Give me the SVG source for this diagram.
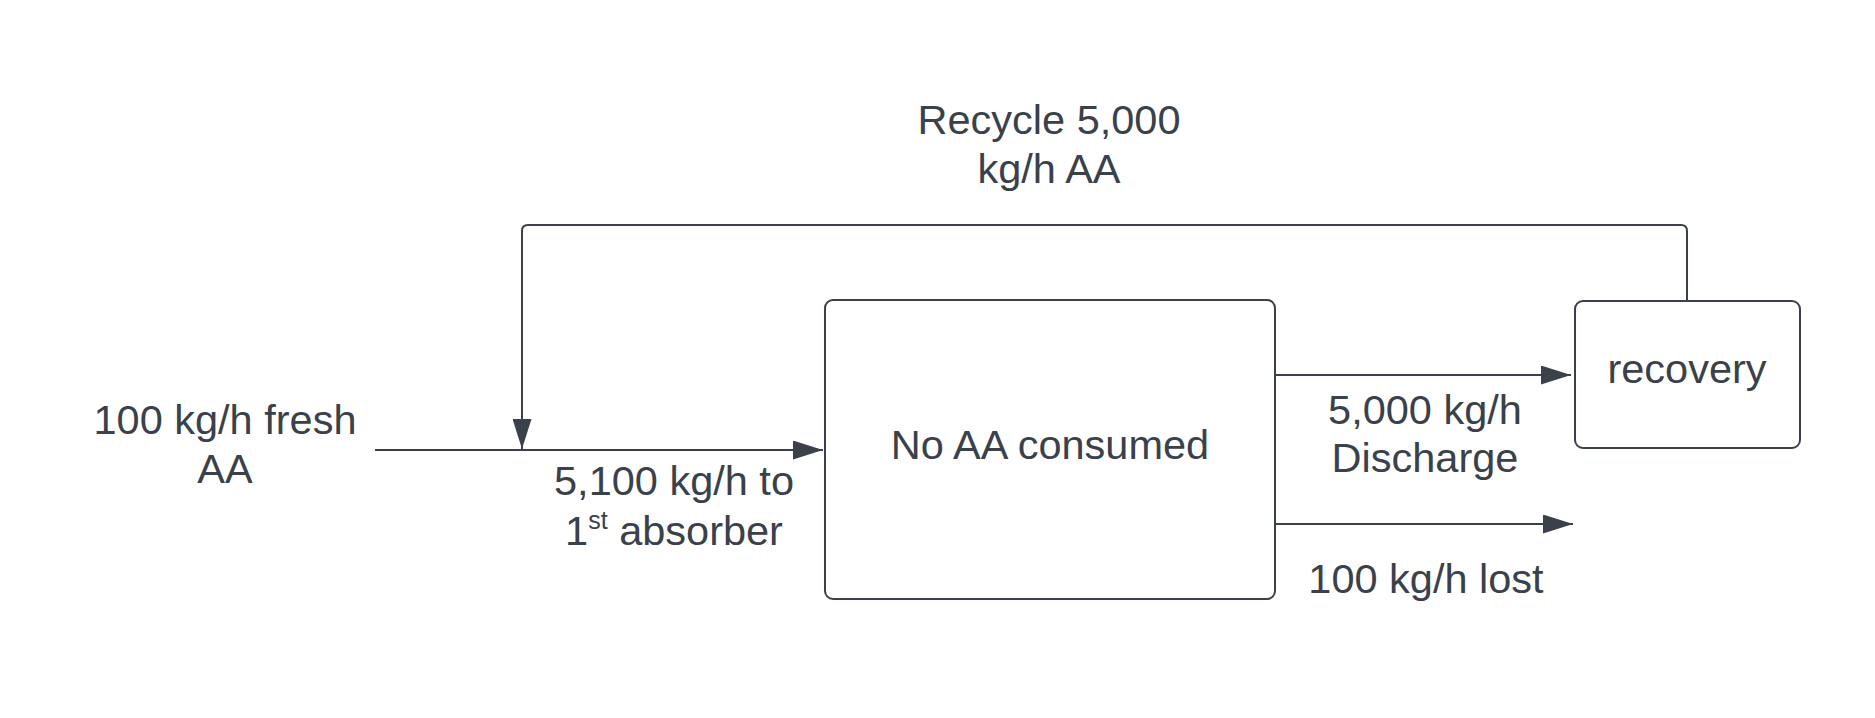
<svg xmlns="http://www.w3.org/2000/svg" width="1875" height="718" viewBox="0 0 1875 718">
<style>
.node{fill:#ffffff;stroke:#3a414a;stroke-width:2}
.edge{fill:none;stroke:#3a414a;stroke-width:2}
.t{font-family:"Liberation Sans",Arial,sans-serif;font-size:41.5px;fill:#3a414a;text-anchor:middle}
</style>
<defs>
<marker id="arr" markerUnits="userSpaceOnUse" markerWidth="30" markerHeight="19" refX="30" refY="9.5" orient="auto">
<path d="M0,0 L30,9.5 L0,19 Z" fill="#3a414a"/>
</marker>
</defs>
<rect width="1875" height="718" fill="#ffffff"/>
<g id="connectors">
<path class="edge" d="M375,450 L823,450" marker-end="url(#arr)"/>
<path class="edge" d="M1687,301 L1687,231 Q1687,225 1681,225 L528,225 Q522,225 522,231 L522,449" marker-end="url(#arr)"/>
<path class="edge" d="M1275,375 L1571,375" marker-end="url(#arr)"/>
<path class="edge" d="M1275,524 L1573,524" marker-end="url(#arr)"/>
</g>
<g id="node-main">
<rect class="node" x="825" y="300" width="450" height="299" rx="8"/>
<text class="t" x="1050" y="459">No AA consumed</text>
</g>
<g id="node-recovery">
<rect class="node" x="1575" y="301" width="225" height="147" rx="8"/>
<text class="t" x="1687" y="383">recovery</text>
</g>
<g id="label-fresh">
<text class="t" x="225" y="434">100 kg/h fresh</text>
<text class="t" x="225" y="483">AA</text>
</g>
<g id="label-feed">
<text class="t" x="674" y="495">5,100 kg/h to</text>
<text class="t" x="674" y="545">1<tspan font-size="25" dy="-16">st</tspan><tspan dy="16"> absorber</tspan></text>
</g>
<g id="label-recycle">
<text class="t" x="1049" y="134">Recycle 5,000</text>
<text class="t" x="1049" y="183">kg/h AA</text>
</g>
<g id="label-discharge">
<text class="t" x="1425" y="424">5,000 kg/h</text>
<text class="t" x="1425" y="472">Discharge</text>
</g>
<g id="label-lost">
<text class="t" x="1426" y="593">100 kg/h lost</text>
</g>
</svg>
